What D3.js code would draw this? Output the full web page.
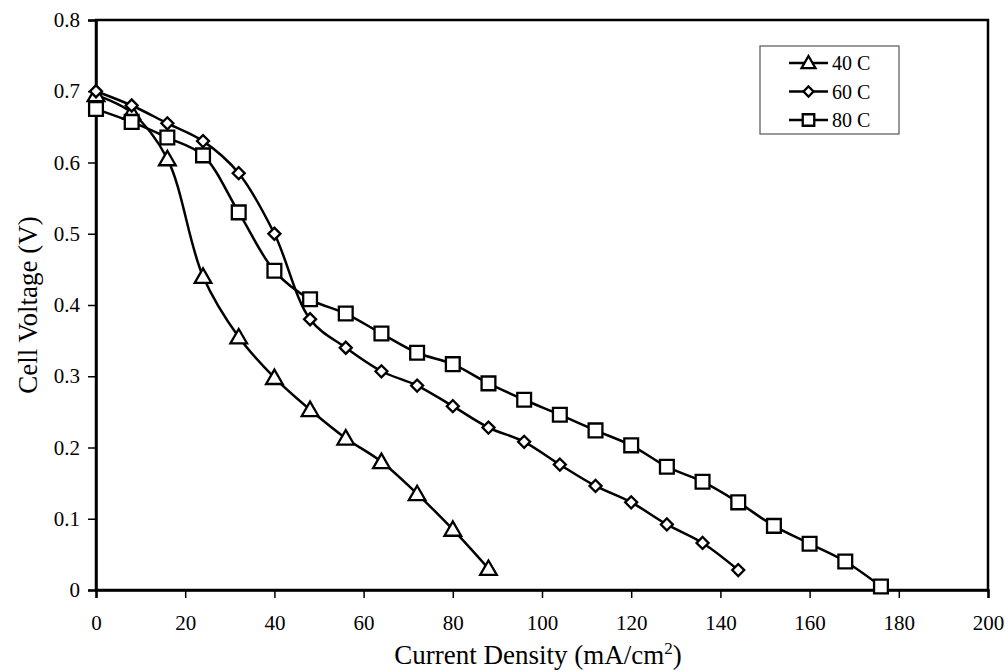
<!DOCTYPE html>
<html>
<head>
<meta charset="utf-8">
<script src="https://cdn.jsdelivr.net/npm/d3@7"></script>
<style>
  body { margin: 0; background: #fff; }
  svg text { font-family: "Liberation Serif", "Times New Roman", serif; fill: #000; }
</style>
</head>
<body>
<svg id="chart" width="1005" height="671"></svg>
<script>
// current density (mA/cm2) for each series
var x40 = [0, 8, 16, 24, 32, 40, 48, 56, 64, 72, 80, 88];
var v40 = [0.695, 0.67, 0.605, 0.44, 0.355, 0.298, 0.253, 0.213, 0.18, 0.135, 0.085, 0.03];

var x60 = [0, 8, 16, 24, 32, 40, 48, 56, 64, 72, 80, 88, 96, 104, 112, 120, 128, 136, 144];
var v60 = [0.70, 0.68, 0.655, 0.63, 0.585, 0.50, 0.38, 0.34, 0.307, 0.287, 0.258, 0.228, 0.208, 0.176, 0.146, 0.123, 0.092, 0.066, 0.028];

var x80 = [0, 8, 16, 24, 32, 40, 48, 56, 64, 72, 80, 88, 96, 104, 112, 120, 128, 136, 144, 152, 160, 168, 176];
var v80 = [0.675, 0.657, 0.635, 0.61, 0.53, 0.448, 0.408, 0.388, 0.36, 0.333, 0.317, 0.29, 0.267, 0.246, 0.224, 0.203, 0.173, 0.152, 0.123, 0.09, 0.065, 0.04, 0.005];

var seriesNames = ["40 C", "60 C", "80 C"];
var xTicks = [0, 20, 40, 60, 80, 100, 120, 140, 160, 180, 200];
var yTicks = [0, 0.1, 0.2, 0.3, 0.4, 0.5, 0.6, 0.7, 0.8];

var series = [
    {name: seriesNames[0], sym: d3.symbolTriangle, size: 120, rot: 0, dy: 1.5, pts: d3.zip(x40, v40)},
    {name: seriesNames[1], sym: d3.symbolSquare, size: 72, rot: 45, dy: 0, pts: d3.zip(x60, v60)},
    {name: seriesNames[2], sym: d3.symbolSquare, size: 190, rot: 0, dy: 0, pts: d3.zip(x80, v80)}
];

var svg = d3.select("#chart");
var L = 96, R = 988, T = 20, B = 590;

var x = d3.scaleLinear().domain([0, 200]).range([L, R]);
var y = d3.scaleLinear().domain([0, 0.8]).range([B, T]);

// frame
svg.append("rect").attr("x", L).attr("y", T).attr("width", R - L).attr("height", B - T)
    .style("fill", "none").style("stroke", "#000").style("stroke-width", 2.5);

var xAxis = svg.append("g").attr("transform", "translate(0," + B + ")")
    .call(d3.axisBottom(x).tickValues(xTicks).tickSize(8).tickPadding(17).tickFormat(d3.format("d")));
var yAxis = svg.append("g").attr("transform", "translate(" + L + ",0)")
    .call(d3.axisLeft(y).tickValues(yTicks).tickSize(8).tickPadding(8)
        .tickFormat(function(d){ return d === 0 ? "0" : d3.format(".1f")(d); }));

[xAxis, yAxis].forEach(function(a){
    a.select(".domain").style("stroke-width", 2.5);
    a.selectAll(".tick line").style("stroke-width", 1.5);
    a.selectAll(".tick text").style("font-size", "21px").style("font-family", "Liberation Serif");
});

// axis titles
var xt = svg.append("text").attr("x", 538).attr("y", 664)
    .attr("text-anchor", "middle").style("font-size", "27px");
xt.append("tspan").text("Current Density (mA/cm");
xt.append("tspan").attr("dy", -10).style("font-size", "17px").text("2");
xt.append("tspan").attr("dy", 10).text(")");

svg.append("text").attr("transform", "translate(37,305) rotate(-90)")
    .attr("text-anchor", "middle").style("font-size", "27px").text("Cell Voltage (V)");

var line = d3.line().curve(d3.curveCatmullRom.alpha(0.5))
    .x(function(d){ return x(d[0]); }).y(function(d){ return y(d[1]); });

series.forEach(function(s){
    svg.append("path").datum(s.pts).attr("d", line)
        .style("fill", "none").style("stroke", "#000").style("stroke-width", 2.5);
});

series.forEach(function(s){
    var shape = d3.symbol().type(s.sym).size(s.size);
    svg.append("g").selectAll("path").data(s.pts).join("path")
        .attr("transform", function(d){
            return "translate(" + x(d[0]) + "," + (y(d[1]) + s.dy) + ") rotate(" + s.rot + ")";
        })
        .attr("d", shape)
        .style("fill", "#fff").style("stroke", "#000").style("stroke-width", 2.3);
});

// legend
var lg = svg.append("g").attr("transform", "translate(760,46)");
lg.append("rect").attr("width", 139).attr("height", 88)
    .style("fill", "#fff").style("stroke", "#555").style("stroke-width", 1.2);
series.forEach(function(s, i){
    var ly = 17 + i * 28.5;
    lg.append("line").attr("x1", 29).attr("x2", 68).attr("y1", ly).attr("y2", ly)
        .style("stroke", "#000").style("stroke-width", 2.5);
    lg.append("path").attr("transform", "translate(48.5," + (ly + s.dy * 0.7) + ") rotate(" + s.rot + ")")
        .attr("d", d3.symbol().type(s.sym).size(s.size * 0.7))
        .style("fill", "#fff").style("stroke", "#000").style("stroke-width", 2.3);
    lg.append("text").attr("x", 72).attr("y", ly + 7).style("font-size", "20px").text(s.name);
});
</script>
</body>
</html>
